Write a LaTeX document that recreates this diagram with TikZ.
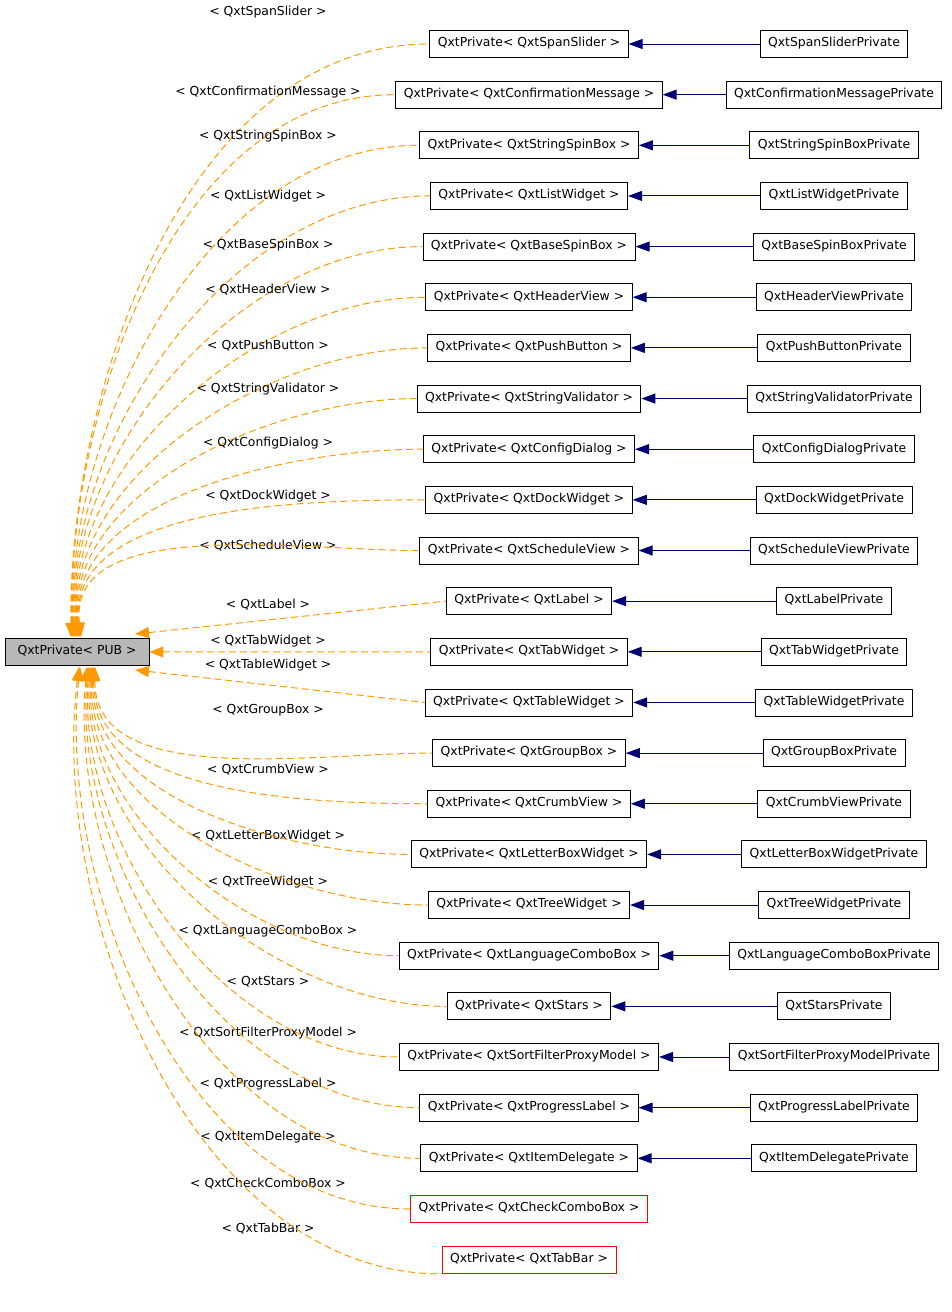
\documentclass[tikz,border=0pt]{standalone}
\usepackage{fontspec}
\setmainfont{DejaVu Sans}
\usetikzlibrary{arrows.meta}

\begin{document}
\begin{tikzpicture}[x=1pt,y=-1pt,font=\fontsize{12.4}{14}\selectfont]

  \tikzstyle{cls}=[rectangle,draw=black,fill=white,inner ysep=0pt,inner xsep=8pt,
    minimum height=27pt,line width=0.9pt]
  \tikzstyle{base}=[cls,fill=black!28,minimum width=144pt]
  \tikzstyle{undoc}=[cls,draw=red]
  \tikzstyle{tmpl}=[{Triangle[length=14pt,width=11pt]}-,color=orange!80!yellow,
    line width=1pt,dash pattern=on 7pt off 4pt]
  \tikzstyle{inh}=[{Triangle[length=14pt,width=10pt]}-,color=blue!45!black,line width=1pt]

  \useasboundingbox (0,0) rectangle (952,1312);

  \node (pub) at (77,652) [base] {\strut QxtPrivate< PUB >};

  %% rows above the base class
  \foreach \i/\nm/\ly in {1/SpanSlider/12,2/ConfirmationMessage/92,3/StringSpinBox/136,
      4/ListWidget/196,5/BaseSpinBox/245,6/HeaderView/290,7/PushButton/346,
      8/StringValidator/389,9/ConfigDialog/443,10/DockWidget/496,11/ScheduleView/546}
  {
    \pgfmathsetmacro{\ry}{44+(\i-1)*50.65}
    \node (m\i) at (529,\ry) [cls] {\strut QxtPrivate< Qxt\nm\ >};
    \node (p\i) at (834,\ry) [cls] {\strut Qxt\nm Private};
    \node (l\i) at (268,\ly) {< Qxt\nm\ >};
    \draw [inh] (m\i.east) -- (p\i.west);
    \draw [tmpl] (70+\i,637) to[out=90+\i*0.6,in=180,looseness=0.9] (m\i.west);
  }

  %% the three middle rows
  \foreach \i/\nm/\ly in {12/Label/605,13/TabWidget/641,14/TableWidget/665}
  {
    \pgfmathsetmacro{\ry}{44+(\i-1)*50.65}
    \node (m\i) at (529,\ry) [cls] {\strut QxtPrivate< Qxt\nm\ >};
    \node (p\i) at (834,\ry) [cls] {\strut Qxt\nm Private};
    \node (l\i) at (268,\ly) {< Qxt\nm\ >};
    \draw [inh] (m\i.east) -- (p\i.west);
  }
  \draw [tmpl] (135,634) -- (m12.west);
  \draw [tmpl] (pub.east) -- (m13.west);
  \draw [tmpl] (135,670) -- (m14.west);

  %% rows below the base class
  \foreach \i/\nm/\ly in {15/GroupBox/710,16/CrumbView/770,17/LetterBoxWidget/836,
      18/TreeWidget/882,19/LanguageComboBox/931,20/Stars/982,
      21/SortFilterProxyModel/1033,22/ProgressLabel/1084,23/ItemDelegate/1137}
  {
    \pgfmathsetmacro{\ry}{44+(\i-1)*50.65}
    \node (m\i) at (529,\ry) [cls] {\strut QxtPrivate< Qxt\nm\ >};
    \node (p\i) at (834,\ry) [cls] {\strut Qxt\nm Private};
    \node (l\i) at (268,\ly) {< Qxt\nm\ >};
    \draw [inh] (m\i.east) -- (p\i.west);
    \draw [tmpl] (96-\i+14,667) to[out=-90-(\i-14)*0.6,in=180,looseness=0.9] (m\i.west);
  }

  \node (m24) at (529,1209) [undoc] {\strut QxtPrivate< QxtCheckComboBox >};
  \node (m25) at (529,1260) [undoc] {\strut QxtPrivate< QxtTabBar >};
  \node (l24) at (268,1184) {< QxtCheckComboBox >};
  \node (l25) at (268,1229) {< QxtTabBar >};
  \draw [tmpl] (80,667) to[out=-96,in=180,looseness=0.9] (m24.west);
  \draw [tmpl] (79,667) to[out=-97,in=180,looseness=0.9] (m25.south west);
\end{tikzpicture}
\end{document}
